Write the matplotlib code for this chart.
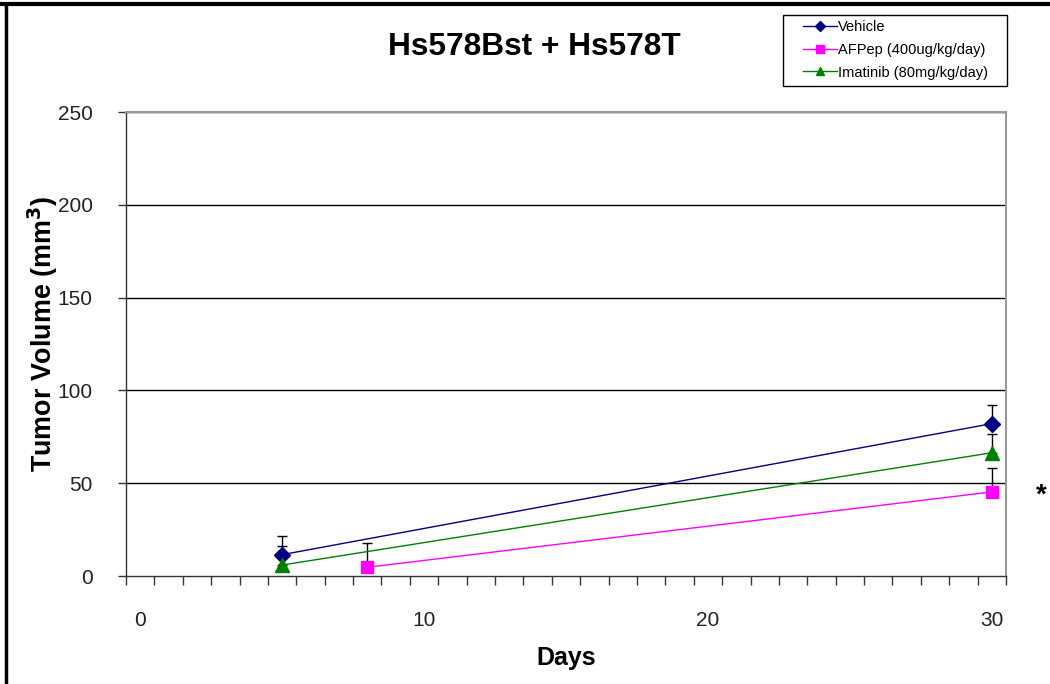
import matplotlib
matplotlib.use("Agg")
import matplotlib.pyplot as plt
from matplotlib.lines import Line2D
from matplotlib.patches import Rectangle

plt.rcParams['font.family'] = ['Liberation Sans', 'DejaVu Sans']

title = "Hs578Bst + Hs578T"
xlabel = "Days"
ylabel = "Tumor Volume (mm$^\\mathbf{3}$)"

series_names = ["Vehicle", "AFPep (400ug/kg/day)", "Imatinib (80mg/kg/day)"]
series_colors = ["#000080", "#FF00FF", "#008000"]
series_markers = ["D", "s", "^"]

vehicle_days = [5, 30]
vehicle_vol = [11.5, 82.1]
vehicle_err = [10.2, 9.9]

afpep_days = [8, 30]
afpep_vol = [4.7, 45.3]
afpep_err = [13.2, 13.1]

imatinib_days = [5, 30]
imatinib_vol = [5.9, 66.4]
imatinib_err = [10.3, 10.3]

x_ticks = [0, 10, 20, 30]
y_ticks = [0, 50, 100, 150, 200, 250]

fig = plt.figure(figsize=(10.5, 6.84), dpi=100)
ax = fig.add_axes([126/1050, 1-576/684, 880/1050, 464/684])

data = [(vehicle_days, vehicle_vol, vehicle_err),
        (afpep_days, afpep_vol, afpep_err),
        (imatinib_days, imatinib_vol, imatinib_err)]
msizes = [8, 8, 9.5]
handles = []
for (d, v, e), name, c, m, ms in zip(data, series_names, series_colors, series_markers, msizes):
    ax.errorbar(d, v, yerr=[[0]*len(e), e], fmt='none', ecolor='black',
                elinewidth=1, capsize=3.3, capthick=1, zorder=3)
    ax.plot(d, v, color=c, lw=1, marker=m, ms=ms, mfc=c, mec=c, zorder=4)
    handles.append(Line2D([], [], color=c, lw=1, marker=m, ms=5.5, mfc=c, mec=c))

ax.set_xlim(-0.5, 30.5)
ax.set_ylim(0, 250)
ax.set_yticks(y_ticks)
ax.set_yticklabels([str(t) for t in y_ticks], fontsize=15, color='#222222')
ax.set_xticks(x_ticks)
ax.set_xticklabels([str(t) for t in x_ticks], fontsize=15, color='#222222')
ax.tick_params(axis='x', length=0, pad=25)
ax.set_xticks([i + 0.5 for i in range(-1, 31)], minor=True)
ax.tick_params(axis='x', which='minor', length=6.5, direction='out', width=1, color='#333333')
ax.tick_params(axis='y', length=6, direction='out', width=1, color='#333333', pad=18)

for y in y_ticks[1:]:
    ax.axhline(y, color='black', lw=1, zorder=1)

for s in ['top', 'right']:
    ax.spines[s].set_color('#999999')
    ax.spines[s].set_linewidth(1.5)
for s in ['left', 'bottom']:
    ax.spines[s].set_color('#333333')
    ax.spines[s].set_linewidth(1)

ax.set_xlabel(xlabel, fontsize=18, fontweight='bold', labelpad=12)
ax.set_ylabel(ylabel, fontsize=19.4, fontweight='bold')
ax.yaxis.set_label_coords((60 - 126) / 880, (576 - 334) / 464)
fig.text(534/1050, 1-47/684, title, fontsize=22.8, fontweight='bold', ha='center', va='center')

leg = fig.legend(handles, series_names, loc='upper left', bbox_to_anchor=(803/1050, 1-20/684),
                 fontsize=10.5, frameon=False, borderpad=0, labelspacing=0.6,
                 handlelength=2.3, handletextpad=0.1, borderaxespad=0)
fig.add_artist(Rectangle((783/1050, 1-86/684), 224/1050, 71/684, transform=fig.transFigure,
                         fill=False, edgecolor='black', lw=1))

fig.text(1041/1050, 1-496/684, "*", fontsize=20, fontweight='bold', ha='center', va='center')

# figure frame lines (top and left)
fig.add_artist(Line2D([0, 1], [1-4/684, 1-4/684], color='black', lw=3, transform=fig.transFigure))
fig.add_artist(Line2D([6/1050, 6/1050], [0, 1-4/684], color='black', lw=2.5, transform=fig.transFigure))

fig.savefig("out.png", dpi=100)
